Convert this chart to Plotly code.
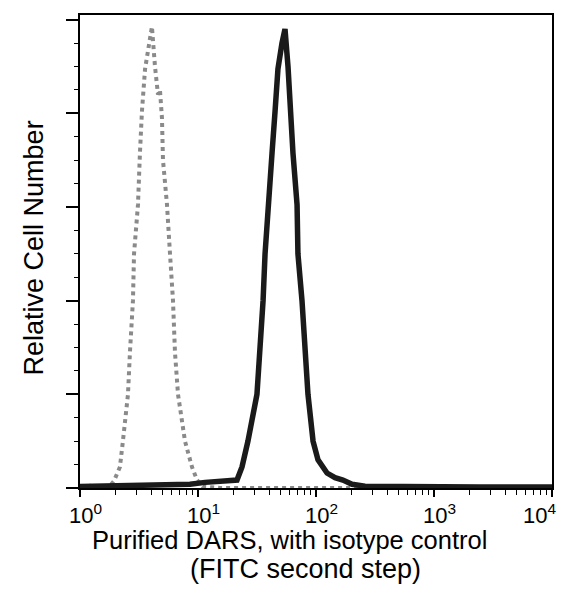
import math
import plotly.graph_objects as go

# fluorescence channel (log scale) and relative counts
isotype_x = [1.0, 1.215, 1.477, 1.796, 1.94, 2.06, 2.18, 2.31, 2.55, 2.65, 2.81, 2.87,
             3.10, 3.22, 3.35, 3.56, 3.85, 4.07, 4.32, 4.58, 4.76, 4.95, 5.05, 5.46,
             5.79, 6.14, 6.38, 6.77, 7.76, 8.89, 9.81, 11.0, 15.4, 10000]
isotype_y = [0, 0.5, 0.2, 0.5, 1.5, 3, 4.5, 10, 20, 29, 40, 50,
             60.5, 71.5, 80.5, 89.5, 95, 98.5, 90, 84, 85, 79, 70, 60.5,
             50, 40, 29, 20, 10, 4.5, 1.7, 0.3, 0, 0]

dars_x = [1.0, 2.18, 4.76, 8.55, 11.5, 15.4, 18.7, 21.4, 23.6, 26.5, 31.6, 33.5,
          35.6, 37.0, 39.2, 42.4, 45.0, 47.6, 51.5, 54.6, 57.9, 60.3, 63.8, 69.1,
          70.3, 76.1, 80.7, 85.5, 94.4, 104, 124, 145, 169, 202, 260, 515, 2450, 10000]
dars_y = [0.3, 0.5, 0.6, 0.8, 1.2, 1.5, 1.5, 1.7, 4.5, 10, 20, 29,
          40, 50, 60.5, 71.5, 80.5, 89.5, 95, 98, 90, 80.5, 71.5, 60.5,
          50, 40, 29, 20, 10, 6, 3.2, 2.2, 1.7, 0.8, 0.4, 0.3, 0.2, 0.2]

decades = [1, 10, 100, 1000, 10000]
decade_labels = ['10<sup>0</sup>', '10<sup>1</sup>', '10<sup>2</sup>',
                 '10<sup>3</sup>', '10<sup>4</sup>']
minor_vals = [m * d for d in decades[:-1] for m in range(2, 10)]

fig = go.Figure()
fig.add_trace(go.Scatter(x=isotype_x, y=isotype_y, mode='lines',
                         line=dict(color='#8a8a8a', width=4, dash='dot'),
                         showlegend=False))
fig.add_trace(go.Scatter(x=dars_x, y=dars_y, mode='lines',
                         line=dict(color='#1a1a1a', width=5.5),
                         showlegend=False))

fig.update_layout(
    width=574, height=595,
    margin=dict(l=80, r=22, t=15, b=107),
    plot_bgcolor='white', paper_bgcolor='white',
    font=dict(family='Liberation Sans, Arial, sans-serif', color='black'),
)
fig.update_xaxes(type='log', range=[0, 4],
                 tickvals=decades, showticklabels=False,
                 ticks='outside', ticklen=7, tickwidth=1.5, tickcolor='black',
                 minor=dict(tickvals=minor_vals, ticks='outside', ticklen=5,
                            tickwidth=1.2, tickcolor='black'),
                 showline=True, linecolor='black', linewidth=2, mirror=True,
                 showgrid=False, zeroline=False)
fig.update_yaxes(range=[0, 101], tick0=0, dtick=20, showticklabels=False,
                 ticks='outside', ticklen=12, tickwidth=1.5, tickcolor='black',
                 minor=dict(dtick=5, ticks='outside', ticklen=4,
                            tickwidth=1.2, tickcolor='black'),
                 showline=True, linecolor='black', linewidth=2, mirror=True,
                 showgrid=False, zeroline=False)

# decade labels: "10" sits on the tick, the exponent hangs to the right;
# the last one is pulled inside the figure as in the original
for i, (val, lab) in enumerate(zip(decades, decade_labels)):
    last = i == len(decades) - 1
    fig.add_annotation(text=lab, xref='x', yref='paper',
                       x=math.log10(val), y=0,
                       xanchor='right' if last else 'left',
                       xshift=6 if last else -13,
                       yanchor='middle', yshift=-26, showarrow=False,
                       font=dict(size=22))

fig.add_annotation(text='Relative Cell Number', textangle=-90,
                   xref='paper', yref='paper', x=-0.098, y=0.508,
                   xanchor='center', yanchor='middle', showarrow=False,
                   font=dict(size=27))
fig.add_annotation(text='Purified DARS, with isotype control',
                   xref='paper', yref='paper', x=0.443, y=-0.11,
                   xanchor='center', yanchor='middle', showarrow=False,
                   font=dict(size=25.5))
fig.add_annotation(text='(FITC second step)',
                   xref='paper', yref='paper', x=0.477, y=-0.171,
                   xanchor='center', yanchor='middle', showarrow=False,
                   font=dict(size=27))

# drop the page's default body margin so the figure sits at the window corner
fig.write_html("out.html", config={'displayModeBar': False},
               post_script="document.body.style.margin='0';")
